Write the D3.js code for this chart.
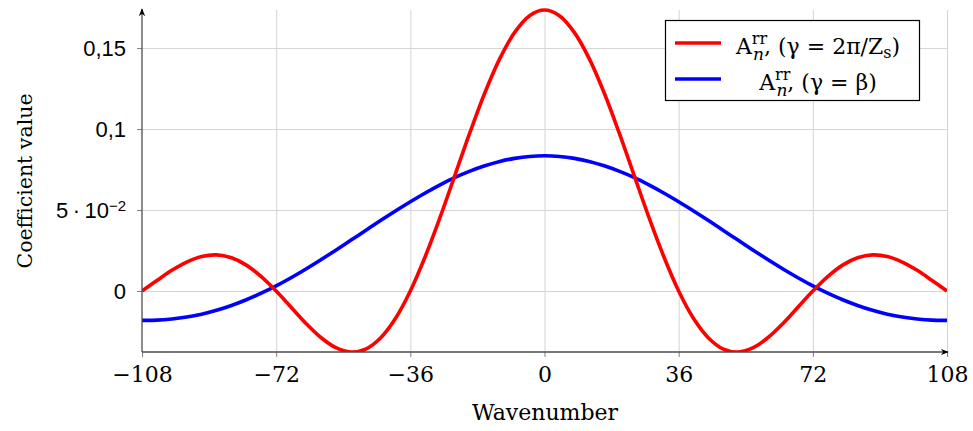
<!DOCTYPE html>
<html>
<head>
<meta charset="utf-8">
<script src="https://cdn.jsdelivr.net/npm/d3@7"></script>
<style>
  html, body { margin: 0; padding: 0; background: #fff; }
  svg { display: block; font-family: "DejaVu Serif", serif; }
</style>
</head>
<body>
<svg id="chart" width="973" height="431"></svg>
<script>
// ---- data ----
const wavenumbers = [-108,-104,-100,-96,-92,-88,-84,-80,-76,-72,-68,-64,-60,-56,-52,-48,-44,-40,-36,-32,-28,-24,-20,-16,-12,-8,-4,0,
  4,8,12,16,20,24,28,32,36,40,44,48,52,56,60,64,68,72,76,80,84,88,92,96,100,104,108];
const redValues = [0,0.0065,0.0128,0.0179,0.0213,0.0223,0.0205,0.0160,0.0089,0,-0.0100,-0.0200,-0.0287,-0.0350,-0.0377,-0.0359,-0.0290,-0.0170,0,0.0213,0.0456,0.0717,0.0979,0.1224,0.1435,0.1597,0.1700,0.1735,
  0.1700,0.1597,0.1435,0.1224,0.0979,0.0717,0.0456,0.0213,0,-0.0170,-0.0290,-0.0359,-0.0377,-0.0350,-0.0287,-0.0200,-0.0100,0,0.0089,0.0160,0.0205,0.0223,0.0213,0.0179,0.0128,0.0065,0];
const blueValues = [-0.0181,-0.0180,-0.0173,-0.0161,-0.0143,-0.0119,-0.0089,-0.0054,-0.0013,0.0032,0.0082,0.0136,0.0193,0.0252,0.0313,0.0374,0.0435,0.0494,0.0551,0.0605,0.0655,0.0701,0.0740,0.0773,0.0800,0.0819,0.0831,0.0835,
  0.0831,0.0819,0.0800,0.0773,0.0740,0.0701,0.0655,0.0605,0.0551,0.0494,0.0435,0.0374,0.0313,0.0252,0.0193,0.0136,0.0082,0.0032,-0.0013,-0.0054,-0.0089,-0.0119,-0.0143,-0.0161,-0.0173,-0.0180,-0.0181];
const xTicks = [-108,-72,-36,0,36,72,108];
const xTickLabels = ["\u2212108","\u221272","\u221236","0","36","72","108"];
const yTicks = [0,0.05,0.1,0.15];
const yTickLabels = ["0","5\u2009\u00b7\u200910|\u22122","0,1","0,15"];
const xDomain = [-108,108];
const yDomain = [-0.03765,0.1735];
const xTitle = "Wavenumber";
const yTitle = "Coefficient value";

// ---- layout ----
const svg = d3.select("#chart");
const L = 142, R = 947, T = 10, B = 352;
const x = d3.scaleLinear().domain(xDomain).range([L, R]);
const y = d3.scaleLinear().domain(yDomain).range([B, T]);

const defs = svg.append("defs");
defs.append("clipPath").attr("id","clip").append("rect")
  .attr("x", L).attr("y", 0).attr("width", R - L).attr("height", B);
defs.append("marker").attr("id","arrow").attr("viewBox","0 0 10 10")
  .attr("refX", 9).attr("refY", 5).attr("markerWidth", 8).attr("markerHeight", 8)
  .attr("markerUnits","userSpaceOnUse").attr("orient","auto")
  .append("path").attr("d","M0,1 L10,5 L0,9 L3,5 Z").attr("fill","#000");

// grid
const grid = svg.append("g");
grid.append("g").attr("transform", `translate(0,${B})`)
  .call(d3.axisBottom(x).tickValues(xTicks.filter(v => v !== xDomain[0])).tickSize(-(B - T)).tickFormat(""))
  .call(g => g.select(".domain").remove())
  .call(g => g.selectAll("line").attr("stroke","#d4d4d4").attr("stroke-width",1));
grid.append("g").attr("transform", `translate(${L},0)`)
  .call(d3.axisLeft(y).tickValues(yTicks).tickSize(-(R - L)).tickFormat(""))
  .call(g => g.select(".domain").remove())
  .call(g => g.selectAll("line").attr("stroke","#d4d4d4").attr("stroke-width",1));

// curves
const line = d3.line().x((d,i) => x(wavenumbers[i])).y(d => y(d)).curve(d3.curveCatmullRom.alpha(0.5));
const plot = svg.append("g").attr("clip-path","url(#clip)");
plot.append("path").datum(blueValues).attr("d", line)
  .attr("fill","none").attr("stroke","#0000ff").attr("stroke-width",3.6);
plot.append("path").datum(redValues).attr("d", line)
  .attr("fill","none").attr("stroke","#ff0000").attr("stroke-width",3.6);

// axes
const xAxis = svg.append("g").attr("transform", `translate(0,${B})`)
  .call(d3.axisBottom(x).tickValues(xTicks).tickSize(5).tickPadding(9).tickFormat((d,i) => xTickLabels[i]));
xAxis.select(".domain").remove();
xAxis.selectAll("line").attr("stroke","#808080");
xAxis.selectAll("text").attr("font-size", 22).attr("fill","#000").attr("font-family","DejaVu Serif");
svg.append("line").attr("x1", L).attr("y1", B).attr("x2", R + 1).attr("y2", B)
  .attr("stroke","#4d4d4d").attr("stroke-width",1.3).attr("marker-end","url(#arrow)");

const yAxis = svg.append("g").attr("transform", `translate(${L},0)`)
  .call(d3.axisLeft(y).tickValues(yTicks).tickSize(5).tickPadding(10).tickFormat(""));
yAxis.select(".domain").remove();
yAxis.selectAll("line").attr("stroke","#808080");
yAxis.selectAll(".tick").each(function(d,i){
  const parts = yTickLabels[i].split("|");
  const t = d3.select(this).append("text").attr("x", -16).attr("dy","0.35em")
    .attr("text-anchor","end").attr("font-size",22).attr("fill","#000");
  t.append("tspan").text(parts[0]);
  if (parts[1]) t.append("tspan").attr("dy","-0.5em").attr("font-size",15).text(parts[1]);
});
svg.append("line").attr("x1", L).attr("y1", B).attr("x2", L).attr("y2", T - 1)
  .attr("stroke","#4d4d4d").attr("stroke-width",1.3).attr("marker-end","url(#arrow)");

// titles
svg.append("text").attr("x", 545).attr("y", 420).attr("text-anchor","middle")
  .attr("font-size",22).text(xTitle);
svg.append("text").attr("transform", `translate(32,181) rotate(-90)`)
  .attr("text-anchor","middle").attr("font-size",20.5).text(yTitle);

// legend
const legend = svg.append("g");
legend.append("rect").attr("x",665.5).attr("y",20.5).attr("width",254).attr("height",80)
  .attr("fill","#fff").attr("stroke","#000").attr("stroke-width",1.2);
const entries = [
  {color:"#ff0000", label:", (\u03b3 = 2\u03c0/Z", sub2:"s", end:")", yy:43},
  {color:"#0000ff", label:", (\u03b3 = \u03b2)", sub2:null, end:"", yy:79}
];
entries.forEach(e => {
  legend.append("line").attr("x1",675).attr("x2",721).attr("y1",e.yy).attr("y2",e.yy)
    .attr("stroke",e.color).attr("stroke-width",3.6);
  const t = legend.append("text").attr("x",818).attr("y",e.yy + 11).attr("text-anchor","middle")
    .attr("font-size",22).attr("fill","#000");
  t.append("tspan").text("A");
  t.append("tspan").attr("font-size",16).attr("dy",-10).text("rr");
  t.append("tspan").attr("font-size",17).attr("font-style","italic").attr("dx",-14).attr("dy",16).text("n");
  t.append("tspan").attr("dy",-6).text(e.label);
  if (e.sub2) t.append("tspan").attr("font-size",16).attr("dy",4).text(e.sub2);
  if (e.end) t.append("tspan").attr("dy", e.sub2 ? -4 : 0).text(e.end);
});
</script>
</body>
</html>
